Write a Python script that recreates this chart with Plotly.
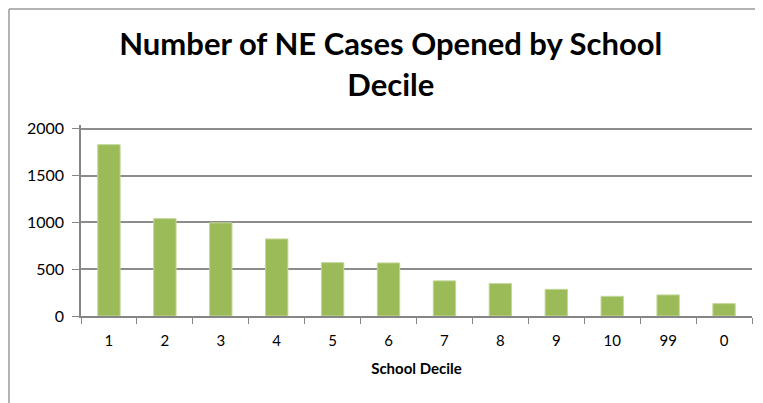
import plotly.graph_objects as go

categories = ["1", "2", "3", "4", "5", "6", "7", "8", "9", "10", "99", "0"]
cases = [1830, 1040, 995, 823, 570, 567, 375, 346, 285, 210, 225, 132]
y_ticks = [0, 500, 1000, 1500, 2000]
y_max = 2040

# page has an 8px body margin; figure is sized to fit within the window
W, H = 755, 395
L, R, T, B = 73, 11, 117, 87
PW, PH = W - L - R, H - T - B

fig = go.Figure()
fig.add_trace(go.Bar(
    x=categories, y=cases,
    marker=dict(color="#9BBB59", line=dict(color="#C3D69B", width=1)),
    hoverinfo="x+y",
))

font_family = "Lato, 'Open Sans', sans-serif"
fig.update_layout(
    width=W, height=H,
    margin=dict(l=L, r=R, t=T, b=B),
    paper_bgcolor="white", plot_bgcolor="white",
    bargap=0.6,
    showlegend=False,
    title=dict(
        text="<b>Number of NE Cases Opened by School<br>Decile</b>",
        x=0.507, xanchor="center", y=0.88, yanchor="middle",
        font=dict(family=font_family, size=31, color="black"),
    ),
    font=dict(family=font_family, size=15, color="black"),
)
fig.update_xaxes(
    type="category",
    showline=True, linecolor="#868686", linewidth=1.5,
    ticks="outside", tickson="boundaries", ticklen=6, tickcolor="#868686", tickwidth=1,
    ticklabelstandoff=10,
    tickfont=dict(size=15, color="black"),
    title=dict(text="<b>School Decile</b>", font=dict(size=15, color="black"), standoff=16),
    showgrid=False,
)
fig.update_yaxes(
    range=[0, y_max], tickvals=y_ticks,
    showline=True, linecolor="#868686", linewidth=1.5,
    ticks="outside", ticklen=7, tickcolor="#868686",
    ticklabelstandoff=5,
    showgrid=True, gridcolor="#8C8C8C", gridwidth=1.5,
    zeroline=False,
    tickfont=dict(size=16, color="black"),
)
# chart border (top and left edges visible)
bx = (1 - L) / PW
bx_end = (W - L) / PW
by = (H - B - 1) / PH
by_end = -(B + 5) / PH
fig.add_shape(type="line", xref="paper", yref="paper",
              x0=bx, x1=bx_end, y0=by, y1=by,
              line=dict(color="#9A9A9A", width=1.5))
fig.add_shape(type="line", xref="paper", yref="paper",
              x0=bx, x1=bx, y0=by, y1=by_end,
              line=dict(color="#9A9A9A", width=1.5))

fig.write_html("out.html", config={"displayModeBar": False})
